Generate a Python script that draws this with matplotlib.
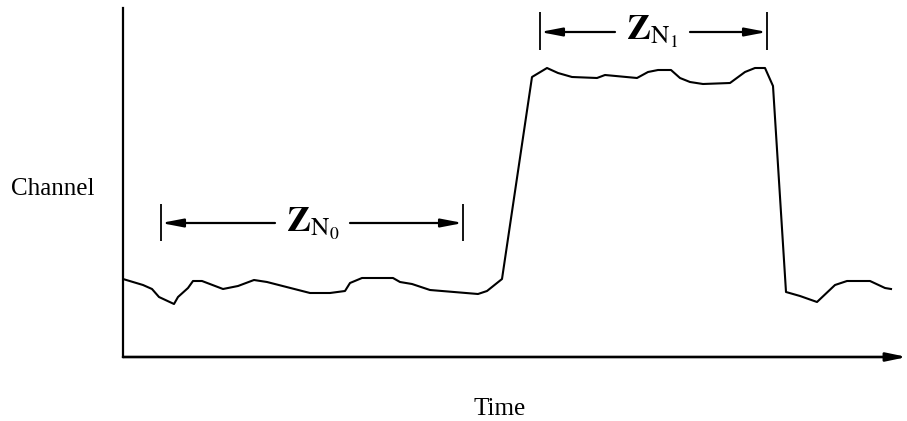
import numpy as np
import matplotlib
matplotlib.use("Agg")
import matplotlib.pyplot as plt

plt.rcParams['font.family'] = ['Liberation Serif', 'DejaVu Serif']
plt.rcParams['mathtext.fontset'] = 'stix'

# trace (arbitrary units)
time = [0, 20, 29, 36, 51, 55, 65, 70, 79, 100, 115, 131, 144, 187, 207, 222,
        227, 239, 270, 277, 289, 307, 355, 364, 379, 409, 424, 435, 449, 474,
        482, 514, 525, 535, 548, 557, 567, 580, 607, 622, 632, 642, 650, 663,
        677, 694, 712, 724, 747, 762, 768]
channel = [78, 72, 68, 60, 53, 60, 69, 76, 76, 68, 71, 77, 75, 64, 64, 66,
           74, 79, 79, 75, 73, 67, 63, 66, 78, 280, 289, 284, 280, 279,
           282, 279, 285, 287, 287, 279, 275, 273, 274, 285, 289, 289, 271, 65,
           61, 55, 72, 76, 76, 69, 68]

# interval markers: start, end, label, arrow level, tick bottom/top, label gap
intervals = [
    (38, 340, r'$\mathbf{Z}_{\mathrm{N}_0}$', 134, 116, 153, 152, 227),
    (417, 644, r'$\mathbf{Z}_{\mathrm{N}_1}$', 325, 307, 345, 492, 567),
]

W, H = 907, 421
fig = plt.figure(figsize=(W / 100, H / 100), dpi=100)
ax = fig.add_axes([123 / W, (H - 357) / H, 784 / W, 349 / H])
ax.set_xlim(0, 784)
ax.set_ylim(0, 349)

ax.plot(time, channel, color='black', lw=1.5)

arrow_kw = dict(arrowstyle='-|>,head_length=1.3,head_width=0.25',
                color='black', lw=1.6, shrinkA=0, shrinkB=0)
for x0, x1, lab, lev, t0, t1, g0, g1 in intervals:
    ax.vlines([x0, x1], t0, t1, color='black', lw=1.3)
    ax.annotate('', xy=(x0, lev), xytext=(g0, lev), arrowprops=arrow_kw)
    ax.annotate('', xy=(x1, lev), xytext=(g1, lev), arrowprops=arrow_kw)
    ax.text((g0 + g1) / 2, lev, lab, ha='center', va='center', fontsize=26)

# axes: left line and arrowed time axis
for s in ['top', 'right', 'bottom']:
    ax.spines[s].set_visible(False)
ax.spines['left'].set_linewidth(1.6)
ax.annotate('', xy=(784, 0), xytext=(0, 0), annotation_clip=False,
            arrowprops=dict(arrowstyle='-|>,head_length=1.2,head_width=0.25',
                            color='black', lw=1.9, shrinkA=0, shrinkB=0))
ax.set_xticks([])
ax.set_yticks([])

fig.text(53 / W, 1 - 195 / H, 'Channel', ha='center', va='baseline', fontsize=18)
fig.text(500 / W, 1 - 415 / H, 'Time', ha='center', va='baseline', fontsize=18)

fig.savefig('out.png', dpi=100)
